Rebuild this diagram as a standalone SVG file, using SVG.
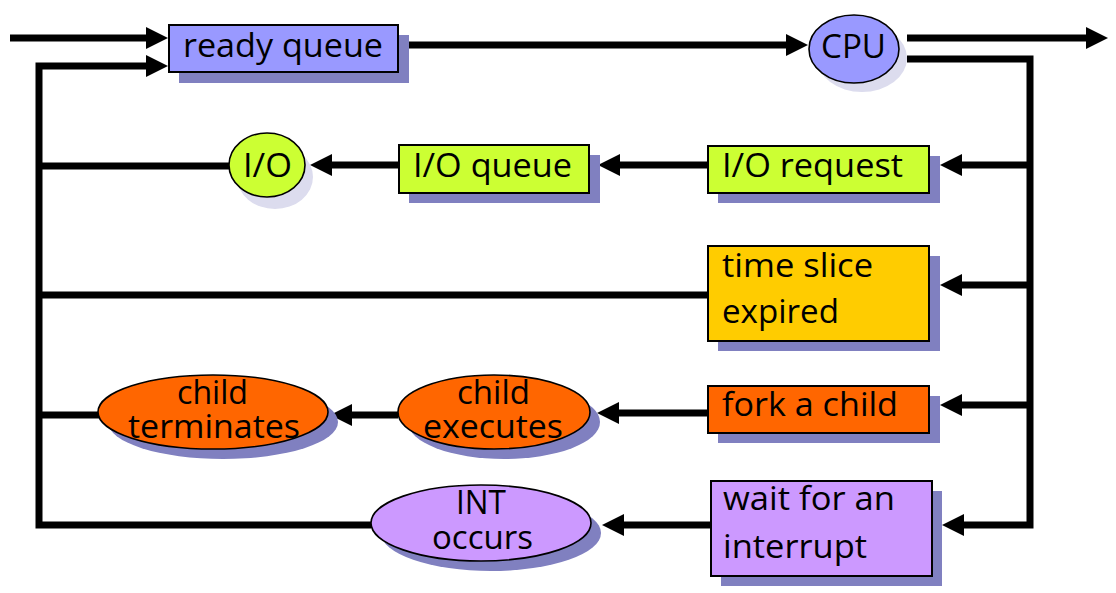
<svg xmlns="http://www.w3.org/2000/svg" width="1116" height="593" viewBox="0 0 1116 593">
<defs>
<style>
.bg{fill:#ffffff}
.sh{fill:#8080c0}
.shl{fill:#dcdcee}
.box{stroke:#000;stroke-width:2}
.ell{stroke:#000;stroke-width:1.6}
.blue{fill:#9999ff}
.lime{fill:#ccff33}
.gold{fill:#ffcc00}
.orange{fill:#ff6600}
.violet{fill:#cc99ff}
.t{font-family:"Open Sans",Lato,"Liberation Sans",sans-serif;font-size:32px;fill:#000}
.c{fill:none;stroke:#000;stroke-width:7;stroke-linejoin:miter}
</style>
<marker id="ah" markerUnits="userSpaceOnUse" markerWidth="22" markerHeight="22" refX="12" refY="11" orient="auto">
<path d="M0,0 L22,11 L0,22 z" fill="#000"/>
</marker>
</defs>
<rect class="bg" x="0" y="0" width="1116" height="593"/>

<g id="connectors">
<path class="c" d="M10,38 H158" marker-end="url(#ah)"/>
<path class="c" d="M371,525 H39 V66 H158" marker-end="url(#ah)"/>
<path class="c" d="M229,166 H39"/>
<path class="c" d="M708,295 H39"/>
<path class="c" d="M99,415 H39"/>
<path class="c" d="M398,45 H798" marker-end="url(#ah)"/>
<path class="c" d="M907,38 H1098" marker-end="url(#ah)"/>
<path class="c" d="M907,59 H1030 V525 H952" marker-end="url(#ah)"/>
<path class="c" d="M1030,165 H950" marker-end="url(#ah)"/>
<path class="c" d="M1030,285 H950" marker-end="url(#ah)"/>
<path class="c" d="M1030,405 H950" marker-end="url(#ah)"/>
<path class="c" d="M708,165 H608" marker-end="url(#ah)"/>
<path class="c" d="M399,165 H320" marker-end="url(#ah)"/>
<path class="c" d="M708,413 H607" marker-end="url(#ah)"/>
<path class="c" d="M398,415 H340" marker-end="url(#ah)"/>
<path class="c" d="M711,525 H612" marker-end="url(#ah)"/>
</g>

<g id="ready-queue">
<rect class="sh" x="179" y="35" width="230" height="48"/>
<rect class="box blue" x="169" y="25" width="229" height="47"/>
<text class="t" x="183" y="57" textLength="200" lengthAdjust="spacingAndGlyphs">ready queue</text>
</g>

<g id="cpu">
<ellipse class="shl" cx="862" cy="58" rx="45" ry="34"/>
<ellipse class="ell blue" cx="854" cy="49" rx="45" ry="34"/>
<text class="t" x="821" y="58" textLength="65" lengthAdjust="spacingAndGlyphs">CPU</text>
</g>

<g id="io">
<ellipse class="shl" cx="275" cy="177" rx="38" ry="32"/>
<ellipse class="ell lime" cx="267" cy="165" rx="38" ry="32"/>
<text class="t" x="243" y="177" textLength="49" lengthAdjust="spacingAndGlyphs">I/O</text>
</g>

<g id="io-queue">
<rect class="sh" x="409" y="155" width="191" height="48"/>
<rect class="box lime" x="399" y="145" width="190" height="48"/>
<text class="t" x="413" y="177" textLength="159" lengthAdjust="spacingAndGlyphs">I/O queue</text>
</g>

<g id="io-request">
<rect class="sh" x="718" y="156" width="222" height="47"/>
<rect class="box lime" x="708" y="146" width="221" height="47"/>
<text class="t" x="722" y="177" textLength="181" lengthAdjust="spacingAndGlyphs">I/O request</text>
</g>

<g id="time-slice">
<rect class="sh" x="718" y="256" width="222" height="95"/>
<rect class="box gold" x="708" y="246" width="221" height="95"/>
<text class="t" x="722" y="277" textLength="151" lengthAdjust="spacingAndGlyphs">time slice</text>
<text class="t" x="722" y="323" textLength="117" lengthAdjust="spacingAndGlyphs">expired</text>
</g>

<g id="fork-child">
<rect class="sh" x="718" y="396" width="222" height="47"/>
<rect class="box orange" x="708" y="386" width="221" height="47"/>
<text class="t" x="722" y="416" textLength="176" lengthAdjust="spacingAndGlyphs">fork a child</text>
</g>

<g id="child-executes">
<ellipse class="sh" cx="504" cy="422" rx="96" ry="37"/>
<ellipse class="ell orange" cx="494" cy="412" rx="96" ry="37"/>
<text class="t" x="457" y="404" textLength="73" lengthAdjust="spacingAndGlyphs">child</text>
<text class="t" x="423" y="438" textLength="140" lengthAdjust="spacingAndGlyphs">executes</text>
</g>

<g id="child-terminates">
<ellipse class="sh" cx="223" cy="422" rx="115" ry="37"/>
<ellipse class="ell orange" cx="213" cy="412" rx="115" ry="37"/>
<text class="t" x="177" y="404" textLength="71" lengthAdjust="spacingAndGlyphs">child</text>
<text class="t" x="128" y="438" textLength="172" lengthAdjust="spacingAndGlyphs">terminates</text>
</g>

<g id="wait-interrupt">
<rect class="sh" x="721" y="491" width="221" height="95"/>
<rect class="box violet" x="711" y="481" width="221" height="95"/>
<text class="t" x="723" y="510" textLength="172" lengthAdjust="spacingAndGlyphs">wait for an</text>
<text class="t" x="723" y="558" textLength="144" lengthAdjust="spacingAndGlyphs">interrupt</text>
</g>

<g id="int-occurs">
<ellipse class="sh" cx="491" cy="533" rx="110" ry="38"/>
<ellipse class="ell violet" cx="481" cy="523" rx="110" ry="38"/>
<text class="t" x="456" y="514" textLength="50" lengthAdjust="spacingAndGlyphs">INT</text>
<text class="t" x="432" y="549" textLength="101" lengthAdjust="spacingAndGlyphs">occurs</text>
</g>
</svg>
